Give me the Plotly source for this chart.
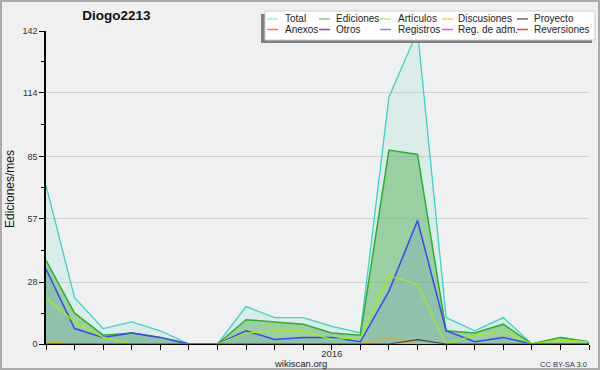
import plotly.graph_objects as go

# ---------------- data ----------------
months = ["2015-03", "2015-04", "2015-05", "2015-06", "2015-07", "2015-08", "2015-09",
          "2015-10", "2015-11", "2015-12", "2016-01", "2016-02", "2016-03", "2016-04",
          "2016-05", "2016-06", "2016-07", "2016-08", "2016-09", "2016-10"]
month_labels = ["", "", "", "", "", "", "", "", "", "", "2016", "", "", "", "", "", "", "", "", ""]

total = [72, 21, 7, 10, 6, 0, 0, 17, 12, 12, 8, 5, 112, 142, 12, 6, 12, 0, 3, 1]
ediciones = [38, 14, 4, 5, 3, 0, 0, 11, 10, 9, 5, 4, 88, 86, 6, 5, 9, 0, 3, 1]
articulos = [21, 10, 3, 0, 0, 0, 0, 5, 6, 6, 2, 3, 31, 27, 0, 4, 6, 0, 2, 1]
discusiones = [1, 0, 0, 0, 0, 0, 0, 0, 0, 0, 0, 0, 3, 0, 0, 0, 0, 0, 0, 0]
proyecto = [0, 0, 0, 0, 0, 0, 0, 0, 0, 0, 0, 0, 0, 2, 0, 0, 0, 0, 0, 0]
registros = [34, 7, 3, 5, 3, 0, 0, 6, 2, 3, 3, 1, 24, 56, 6, 1, 3, 0, 0, 0]

y_ticks = [0, 28, 57, 85, 114, 142]
y_minor = [14, 42.5, 71, 99.5, 128]

legend_labels = ["Total", "Ediciones", "Artículos", "Discusiones", "Proyecto",
                 "Anexos", "Otros", "Registros", "Reg. de adm.", "Reversiones"]
legend_colors = ["#a8e6e0", "#84c884", "#c8ee70", "#f4cc6c", "#6c6c6c",
                 "#f08050", "#8c3ce0", "#8080f8", "#dc50ec", "#ec4040"]

title_text = "Diogo2213"
y_title = "Ediciones/mes"
credit = "wikiscan.org"
license_text = "CC BY-SA 3.0"

# ---------------- geometry ----------------
W, H = 600, 370
L, R, T, B = 46, 11, 31, 26
PW, PH = W - L - R, H - T - B


def px(x):
    return (x - L) / PW


def py(y):
    return (H - B - y) / PH


FONT = "Liberation Sans"

fig = go.Figure()

# filled areas
fig.add_trace(go.Scatter(x=months, y=total, mode="lines", fill="tozeroy",
                         fillcolor="rgba(150,228,205,0.22)",
                         line=dict(color="#3cd2c8", width=1.3), showlegend=False,
                         cliponaxis=False))
fig.add_trace(go.Scatter(x=months, y=ediciones, mode="lines", fill="tozeroy",
                         fillcolor="rgba(100,182,100,0.55)",
                         line=dict(color="#2eae2e", width=1.5), showlegend=False,
                         cliponaxis=False))
fig.add_trace(go.Scatter(x=months, y=registros, mode="lines", fill="tozeroy",
                         fillcolor="rgba(60,90,255,0.10)",
                         line=dict(color="#3a46f8", width=1.5), showlegend=False,
                         cliponaxis=False))
fig.add_trace(go.Scatter(x=months, y=articulos, mode="lines",
                         line=dict(color="#a8f000", width=1.1), showlegend=False,
                         cliponaxis=False))
fig.add_trace(go.Scatter(x=months, y=discusiones, mode="lines",
                         line=dict(color="#e0b020", width=1.1), showlegend=False,
                         cliponaxis=False))
fig.add_trace(go.Scatter(x=months, y=proyecto, mode="lines",
                         line=dict(color="#404040", width=1.1), showlegend=False,
                         cliponaxis=False))

shapes = []
annotations = []

# outer border
shapes.append(dict(type="rect", xref="paper", yref="paper",
                   x0=px(1), x1=px(W - 1), y0=py(H - 1), y1=py(1),
                   line=dict(color="#ababab", width=2), fillcolor="rgba(0,0,0,0)",
                   layer="below"))

# legend box with shadow
shapes.append(dict(type="rect", xref="paper", yref="paper",
                   x0=px(261), x1=px(592), y0=py(43), y1=py(14),
                   line=dict(width=0), fillcolor="#808080"))
shapes.append(dict(type="rect", xref="paper", yref="paper",
                   x0=px(265), x1=px(595), y0=py(40), y1=py(11),
                   line=dict(color="#cfcfcf", width=1), fillcolor="#ffffff"))

col_line_x = [267, 319, 380, 442, 517]
col_text_x = [284, 335, 397, 457, 533]
row_y = [19, 29.5]
for i, (lab, col) in enumerate(zip(legend_labels, legend_colors)):
    r, c = divmod(i, 5)
    yy = row_y[r]
    shapes.append(dict(type="line", xref="paper", yref="paper",
                       x0=px(col_line_x[c]), x1=px(col_line_x[c] + 11),
                       y0=py(yy), y1=py(yy), line=dict(color=col, width=1.5)))
    annotations.append(dict(text=lab, xref="paper", yref="paper",
                            x=px(col_text_x[c] - 1), y=py(yy), xanchor="left",
                            yanchor="middle", showarrow=False,
                            font=dict(family=FONT, size=10, color="#222")))

# y title
annotations.append(dict(text=y_title, xref="paper", yref="paper", x=px(10), y=py(189),
                        xanchor="center", yanchor="middle", textangle=-90,
                        showarrow=False, font=dict(family=FONT, size=12, color="#111")))
# credit
annotations.append(dict(text=credit, xref="paper", yref="paper", x=px(300), y=py(363),
                        xanchor="center", yanchor="middle", showarrow=False,
                        font=dict(family=FONT, size=9.5, color="#222")))
annotations.append(dict(text=license_text, xref="paper", yref="paper", x=px(589),
                        y=py(364), xanchor="right", yanchor="middle", showarrow=False,
                        font=dict(family=FONT, size=7.5, color="#333")))

fig.update_layout(
    width=W, height=H,
    margin=dict(l=L, r=R, t=T, b=B, pad=0),
    paper_bgcolor="#f0f0f0",
    plot_bgcolor="#eef0f2",
    title=dict(text="<b>" + title_text + "</b>", xref="container", yref="container",
               x=116.5 / W, y=1 - 15 / H, xanchor="center", yanchor="middle",
               font=dict(family=FONT, size=13.5, color="#111")),
    shapes=shapes,
    annotations=annotations,
    showlegend=False,
    xaxis=dict(type="category", range=[0, len(months) - 1], tickvals=months,
               ticktext=month_labels, showgrid=False, zeroline=False,
               showline=True, linecolor="#000", linewidth=1,
               ticks="outside", ticklen=5, tickcolor="#000", tickwidth=1,
               ticklabelstandoff=-4,
               tickfont=dict(family=FONT, size=9.5, color="#333"), fixedrange=True),
    yaxis=dict(range=[0, 142], tickvals=y_ticks, ticktext=[str(v) for v in y_ticks],
               showgrid=True, gridcolor="#cfcfcf", gridwidth=1, zeroline=False,
               showline=True, linecolor="#000", linewidth=1.5,
               ticks="outside", ticklen=5, tickcolor="#000", tickwidth=1,
               tickfont=dict(family=FONT, size=9, color="#333"),
               minor=dict(tickvals=y_minor, ticks="outside", ticklen=3,
                          tickcolor="#000", showgrid=False),
               fixedrange=True),
)

fig.write_html("out.html")
